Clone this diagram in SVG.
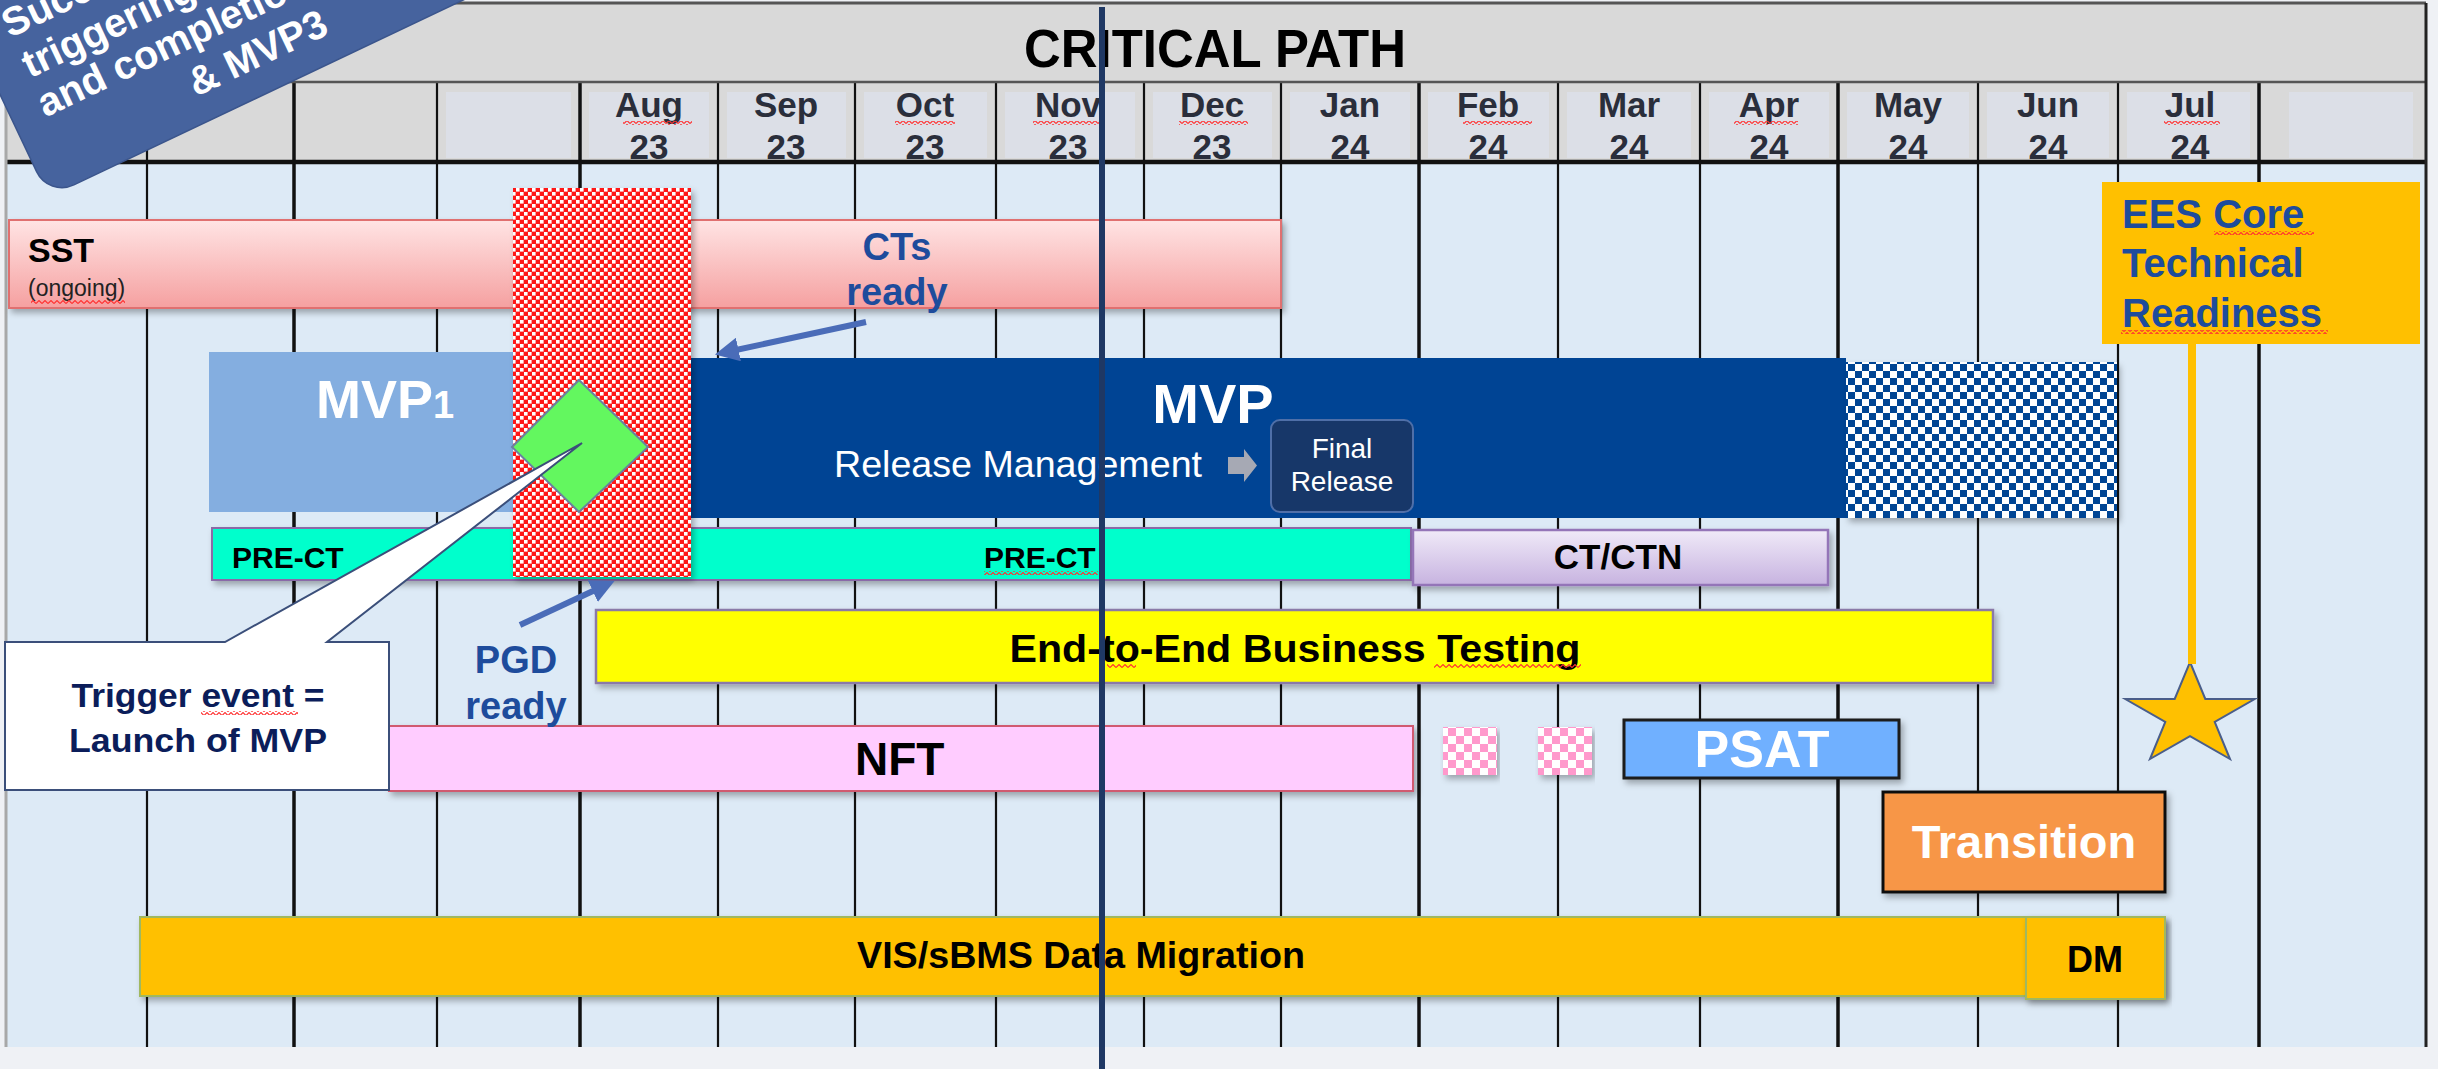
<svg xmlns="http://www.w3.org/2000/svg" width="2438" height="1069" viewBox="0 0 2438 1069">
<defs>
<style>
text{font-family:"Liberation Sans",Arial,Helvetica,sans-serif;}
.b{font-weight:bold;}
.mon{font-size:35px;font-weight:bold;fill:#2a2e3b;text-anchor:middle;}
.mbox{fill:#dcdfe7;}
.g{stroke:#111;stroke-width:2.2;}
.gt{stroke:#111;stroke-width:3.5;}
.blue{fill:#1e4c9c;font-weight:bold;}
.wt{fill:#fff;}
.blk{fill:#000;}
.mid{text-anchor:middle;}
.sq{fill:url(#squig);}
.sh{filter:url(#sh);}
.conn{stroke:#4a6cb8;stroke-width:6;fill:none;marker-end:url(#ah);}
</style>
<pattern id="redchk" width="8" height="8" patternUnits="userSpaceOnUse"><rect width="8" height="8" fill="#ff1414"/><rect width="3.6" height="3.6" fill="#fff"/><rect x="4" y="4" width="3.6" height="3.6" fill="#fff"/></pattern>
<pattern id="bluechk" width="14" height="14" patternUnits="userSpaceOnUse"><rect width="14" height="14" fill="#fff"/><rect width="7" height="7" fill="#004494"/><rect x="7" y="7" width="7" height="7" fill="#004494"/></pattern>
<pattern id="pinkchk" width="16" height="16" patternUnits="userSpaceOnUse"><rect width="16" height="16" fill="#fff"/><rect width="8" height="8" fill="#ff99cc"/><rect x="8" y="8" width="8" height="8" fill="#ff99cc"/></pattern>
<pattern id="squig" width="6" height="4" patternUnits="userSpaceOnUse"><path d="M0,3.5 L3,0.5 L6,3.5" fill="none" stroke="#ff3030" stroke-width="1.1"/></pattern>
<linearGradient id="sstg" x1="0" y1="0" x2="0" y2="1"><stop offset="0" stop-color="#ffe4e4"/><stop offset="1" stop-color="#f5a0a0"/></linearGradient>
<linearGradient id="ctg" x1="0" y1="0" x2="0" y2="1"><stop offset="0" stop-color="#f0eaf8"/><stop offset="1" stop-color="#c7b3e0"/></linearGradient>
<filter id="sh" x="-5%" y="-15%" width="110%" height="140%"><feDropShadow dx="3" dy="4" stdDeviation="3" flood-color="#000" flood-opacity="0.3"/></filter>
<marker id="ah" viewBox="0 0 10 10" refX="7" refY="5" markerWidth="4" markerHeight="4" orient="auto"><path d="M0,0 L10,5 L0,10 z" fill="#4a6cb8"/></marker>
</defs>

<rect width="2438" height="1069" fill="#eff1f5"/>

<g id="chart-frame">
<rect x="7" y="3" width="2419" height="159" fill="#d9d9d9"/>
<rect x="7" y="162" width="2419" height="885" fill="#ddeaf6"/>
<g id="month-boxes">
<rect class="mbox" x="446" y="92" width="125" height="66"/>
<rect class="mbox" x="589" y="92" width="120" height="66"/>
<rect class="mbox" x="727" y="92" width="119" height="66"/>
<rect class="mbox" x="864" y="92" width="123" height="66"/>
<rect class="mbox" x="1005" y="92" width="130" height="66"/>
<rect class="mbox" x="1153" y="92" width="119" height="66"/>
<rect class="mbox" x="1290" y="92" width="120" height="66"/>
<rect class="mbox" x="1428" y="92" width="121" height="66"/>
<rect class="mbox" x="1567" y="92" width="124" height="66"/>
<rect class="mbox" x="1709" y="92" width="120" height="66"/>
<rect class="mbox" x="1847" y="92" width="122" height="66"/>
<rect class="mbox" x="1987" y="92" width="122" height="66"/>
<rect class="mbox" x="2127" y="92" width="123" height="66"/>
<rect class="mbox" x="2289" y="92" width="124" height="66"/>
</g>
<g id="grid-lines">
<line class="g" x1="147" y1="82" x2="147" y2="1047"/>
<line class="gt" x1="294" y1="82" x2="294" y2="1047"/>
<line class="g" x1="437" y1="82" x2="437" y2="1047"/>
<line class="gt" x1="580" y1="82" x2="580" y2="1047"/>
<line class="g" x1="718" y1="82" x2="718" y2="1047"/>
<line class="g" x1="855" y1="82" x2="855" y2="1047"/>
<line class="g" x1="996" y1="82" x2="996" y2="1047"/>
<line class="g" x1="1144" y1="82" x2="1144" y2="1047"/>
<line class="g" x1="1281" y1="82" x2="1281" y2="1047"/>
<line class="gt" x1="1419" y1="82" x2="1419" y2="1047"/>
<line class="g" x1="1558" y1="82" x2="1558" y2="1047"/>
<line class="g" x1="1700" y1="82" x2="1700" y2="1047"/>
<line class="gt" x1="1838" y1="82" x2="1838" y2="1047"/>
<line class="g" x1="1978" y1="82" x2="1978" y2="1047"/>
<line class="g" x1="2118" y1="82" x2="2118" y2="1047"/>
<line class="gt" x1="2259" y1="82" x2="2259" y2="1047"/>
<line x1="7" y1="82" x2="2426" y2="82" stroke="#555" stroke-width="2.5"/>
<line x1="7" y1="162" x2="2426" y2="162" stroke="#111" stroke-width="4.5"/>
<line x1="7" y1="3" x2="2426" y2="3" stroke="#555" stroke-width="3"/>
<line x1="2426" y1="3" x2="2426" y2="1047" stroke="#222" stroke-width="3"/>
<line x1="6" y1="0" x2="6" y2="1047" stroke="#a8a8a8" stroke-width="3"/>
</g>
<text class="b" x="1215" y="67" font-size="54" text-anchor="middle" textLength="382" lengthAdjust="spacingAndGlyphs">CRITICAL PATH</text>
<g id="months">
<text class="mon" x="649" y="117">Aug</text><text class="mon" x="649" y="159">23</text>
<text class="mon" x="786" y="117">Sep</text><text class="mon" x="786" y="159">23</text>
<text class="mon" x="925" y="117">Oct</text><text class="mon" x="925" y="159">23</text>
<text class="mon" x="1068" y="117">Nov</text><text class="mon" x="1068" y="159">23</text>
<text class="mon" x="1212" y="117">Dec</text><text class="mon" x="1212" y="159">23</text>
<text class="mon" x="1350" y="117">Jan</text><text class="mon" x="1350" y="159">24</text>
<text class="mon" x="1488" y="117">Feb</text><text class="mon" x="1488" y="159">24</text>
<text class="mon" x="1629" y="117">Mar</text><text class="mon" x="1629" y="159">24</text>
<text class="mon" x="1769" y="117">Apr</text><text class="mon" x="1769" y="159">24</text>
<text class="mon" x="1908" y="117">May</text><text class="mon" x="1908" y="159">24</text>
<text class="mon" x="2048" y="117">Jun</text><text class="mon" x="2048" y="159">24</text>
<text class="mon" x="2190" y="117">Jul</text><text class="mon" x="2190" y="159">24</text>
<rect class="sq" x="623" y="121" width="69" height="4"/>
<rect class="sq" x="895" y="121" width="60" height="4"/>
<rect class="sq" x="1033" y="121" width="66" height="4"/>
<rect class="sq" x="1179" y="121" width="69" height="4"/>
<rect class="sq" x="1463" y="121" width="69" height="4"/>
<rect class="sq" x="1734" y="121" width="64" height="4"/>
<rect class="sq" x="2164" y="121" width="56" height="4"/>
</g>
</g>

<g id="sst">
<rect class="sh" x="9" y="220" width="1272" height="88" fill="url(#sstg)" stroke="#e07070" stroke-width="2"/>
<text class="b blk" x="28" y="262" font-size="34">SST</text>
<text x="28" y="296" font-size="23" fill="#222">(ongoing)</text>
<rect class="sq" x="31" y="300" width="94" height="4"/>
</g>

<g id="mvp1">
<rect x="209" y="352" width="310" height="160" fill="#84aee0"/>
<text class="b wt" x="316" y="418" font-size="54">MVP<tspan font-size="38">1</tspan></text>
</g>

<g id="mvp">
<rect x="690" y="358" width="1156" height="160" fill="#004494"/>
<text class="b wt mid" x="1213" y="423" font-size="56">MVP</text>
<text class="wt" x="834" y="477" font-size="36" textLength="368" lengthAdjust="spacingAndGlyphs">Release Management</text>
<path d="M1228,457 L1244,457 L1244,449 L1257,465.5 L1244,482 L1244,474 L1228,474 Z" fill="#a6a9b4"/>
</g>

<g id="final-release">
<rect x="1271" y="420" width="142" height="92" rx="9" fill="#173769" stroke="#4f6fa8" stroke-width="2"/>
<text class="wt mid" x="1342" y="458" font-size="28">Final</text>
<text class="wt mid" x="1342" y="491" font-size="28">Release</text>
</g>

<g id="mvp-future">
<rect class="sh" x="1846" y="362" width="271" height="156" fill="url(#bluechk)"/>
</g>

<g id="pre-ct">
<rect class="sh" x="212" y="528" width="1199" height="52" fill="#00ffcc" stroke="#8a6aa8" stroke-width="2"/>
<text class="b blk" x="232" y="568" font-size="30">PRE-CT</text>
<text class="b blk" x="984" y="568" font-size="30">PRE-CT</text>
<rect class="sq" x="984" y="571" width="114" height="4"/>
</g>

<g id="ct-ctn">
<rect class="sh" x="1413" y="530" width="415" height="55" fill="url(#ctg)" stroke="#9474b8" stroke-width="2.5"/>
<text class="b blk mid" x="1618" y="569" font-size="35">CT/CTN</text>
</g>

<g id="e2e">
<rect class="sh" x="596" y="610" width="1397" height="73" fill="#ffff00" stroke="#8a7aa8" stroke-width="2.5"/>
<text class="b blk mid" x="1295" y="662" font-size="39" textLength="571" lengthAdjust="spacingAndGlyphs">End-to-End Business Testing</text>
<rect class="sq" x="1107" y="664" width="29" height="4"/>
<rect class="sq" x="1434" y="664" width="147" height="4"/>
</g>

<g id="nft">
<rect class="sh" x="389" y="726" width="1024" height="65" fill="#ffccff" stroke="#d05a70" stroke-width="2"/>
<text class="b blk" x="855" y="775" font-size="46">NFT</text>
</g>

<g id="nft-extra">
<rect class="sh" x="1443" y="727" width="54" height="48" fill="url(#pinkchk)"/>
<rect class="sh" x="1538" y="727" width="54" height="48" fill="url(#pinkchk)"/>
</g>

<g id="psat">
<rect class="sh" x="1624" y="720" width="275" height="58" fill="#6fb0ff" stroke="#1a1a1a" stroke-width="3"/>
<text class="b wt mid" x="1762" y="767" font-size="52">PSAT</text>
</g>

<g id="transition">
<rect class="sh" x="1883" y="792" width="282" height="100" fill="#f79646" stroke="#111" stroke-width="3"/>
<text class="b wt mid" x="2024" y="858" font-size="47">Transition</text>
</g>

<g id="data-migration">
<rect class="sh" x="140" y="917" width="2025" height="79" fill="#ffc000" stroke="#a0b860" stroke-width="2"/>
<text class="b blk" x="857" y="968" font-size="37" textLength="448" lengthAdjust="spacingAndGlyphs">VIS/sBMS Data Migration</text>
</g>

<g id="dm">
<rect class="sh" x="2026" y="917" width="139" height="82" fill="#ffc000" stroke="#a0b860" stroke-width="2"/>
<text class="b blk mid" x="2095" y="972" font-size="36">DM</text>
</g>

<g id="ees-readiness">
<rect x="2102" y="182" width="318" height="162" fill="#ffc000"/>
<text class="blue" x="2122" y="228" font-size="40">EES Core</text>
<text class="blue" x="2122" y="277" font-size="40">Technical</text>
<text class="blue" x="2122" y="327" font-size="40">Readiness</text>
<rect class="sq" x="2214" y="231" width="100" height="4"/>
<rect class="sq" x="2121" y="330" width="207" height="4"/>
</g>

<g id="milestone-star">
<path d="M2190,662 L2205.3,699 L2254.7,699 L2214.7,721.9 L2230,759 L2190,736.1 L2150,759 L2165.3,721.9 L2125.3,699 L2174.7,699 Z" fill="#ffc000" stroke="#4a5e8a" stroke-width="2"/>
</g>

<g id="pgd-block">
<rect class="sh" x="513" y="188" width="178" height="389" fill="url(#redchk)"/>
</g>

<g id="trigger-diamond">
<path d="M579,380 L648,447 L579,512 L512,447 Z" fill="#63f75f" stroke="#6b7fa0" stroke-width="2"/>
</g>

<g id="ct-label">
<text class="blue mid" x="897" y="260" font-size="38">CTs</text>
<text class="blue mid" x="897" y="305" font-size="38">ready</text>
</g>

<g id="pgd-label">
<text class="blue mid" x="516" y="673" font-size="38">PGD</text>
<text class="blue mid" x="516" y="719" font-size="38">ready</text>
</g>

<g id="trigger-callout">
<path d="M5,642 L225,642 L582,443 L327,642 L389,642 L389,790 L5,790 Z" fill="#fff" stroke="#3b4f7a" stroke-width="2"/>
<text class="b mid" x="198" y="707" font-size="34" fill="#0b1d5a" textLength="253" lengthAdjust="spacingAndGlyphs">Trigger event =</text>
<text class="b mid" x="198" y="752" font-size="34" fill="#0b1d5a" textLength="258" lengthAdjust="spacingAndGlyphs">Launch of MVP</text>
<rect class="sq" x="201" y="711" width="97" height="4"/>
</g>

<g id="mvp-callout">
<g transform="translate(196,97) rotate(-25.4)">
<rect x="-176" y="-600" width="900" height="627" rx="28" fill="#46639e" stroke="#3b558c" stroke-width="1.5"/>
<text class="b wt" x="-143" y="-133" font-size="40">Successful</text>
<text class="b wt" x="-142" y="-88" font-size="40">triggering</text>
<text class="b wt" x="-145" y="-46" font-size="40">and completion</text>
<text class="b wt" x="0" y="0" font-size="40">&amp; MVP3</text>
</g>
</g>

<g id="connectors">
<path class="conn" d="M866,322 L722,353"/>
<path class="conn" d="M520,625 L608,584"/>
<line x1="2192" y1="344" x2="2192" y2="664" stroke="#ffc000" stroke-width="8"/>
<line x1="1102" y1="7" x2="1102" y2="1069" stroke="#1f3864" stroke-width="6"/>
</g>
</svg>
